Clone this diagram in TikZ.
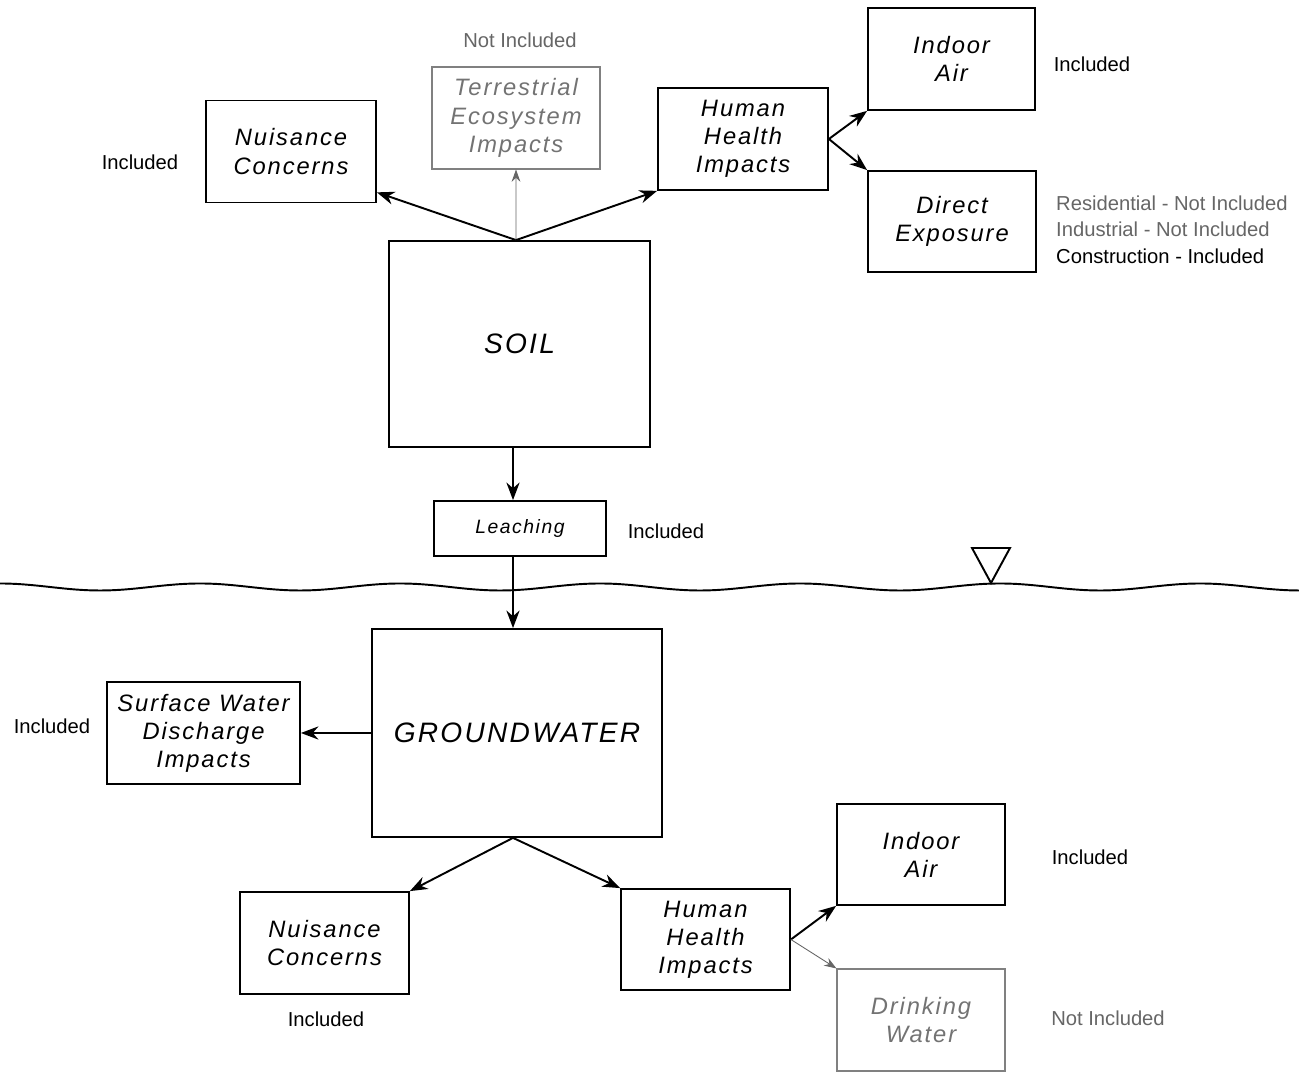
\documentclass[tikz,border=0pt]{standalone}
\usepackage{fontspec}
\setmainfont{Liberation Sans}
\newfontfamily\boxfont[LetterSpace=8]{Liberation Sans}
\usepackage{tikz}
\usetikzlibrary{
  arrows.meta,
  positioning,
  calc
}

\begin{document}
\begin{tikzpicture}[
    box/.style={
        draw,
        rectangle,
        line width=1pt,
        align=center,
        font=\boxfont\itshape\fontsize{13.5}{16}\selectfont,
        minimum width=3.4cm,
        minimum height=2.04cm,
        inner sep=2pt
    },
    faint/.style={draw=black!50, text=black!55, line width=0.6pt},
    medium/.style={box, minimum width=5.5cm, minimum height=4.14cm,
        font=\boxfont\itshape\fontsize{16}{19}\selectfont},
    note/.style={font=\fontsize{11.5}{15}\selectfont},
    arrow/.style={-{Stealth[length=10pt,width=7.5pt]}, line width=1.1pt},
    faintarrow/.style={-{Stealth[length=7pt,width=5pt]}, line width=0.5pt, draw=black!60}
]

\useasboundingbox (0,0) rectangle (25.98,21.46);

% ----------------------------------------------------------
% NODES
% ----------------------------------------------------------

\node[medium, minimum width=5.22cm, minimum height=4.12cm] (soil) at (10.39,14.58) {SOIL};

\node[box] (nuisTop) at (5.82,18.43) {Nuisance\\Concerns};
\node[box, faint, minimum width=3.36cm] (terr) at (10.32,19.10) {Terrestrial\\Ecosystem\\Impacts};
\node[box] (healthTop) at (14.86,18.68) {Human\\Health\\Impacts};
\node[box, minimum width=3.34cm] (indoorTop) at (19.03,20.28) {Indoor\\Air};
\node[box, minimum width=3.36cm, minimum height=2.02cm] (direct) at (19.04,17.03) {Direct\\Exposure};

\node[box, minimum width=3.44cm, minimum height=1.1cm,
      font=\boxfont\itshape\fontsize{11}{13}\selectfont] (leach) at (10.40,10.89) {Leaching};

\node[medium, minimum width=5.8cm, minimum height=4.16cm] (gw) at (10.34,6.80) {GROUNDWATER};

\node[box, minimum width=3.86cm] (surf) at (4.07,6.80) {Surface Water\\Discharge\\Impacts};
\node[box, minimum width=3.38cm] (nuisBot) at (6.49,2.60) {Nuisance\\Concerns};
\node[box, minimum width=3.38cm, minimum height=2.02cm] (healthBot) at (14.11,2.67) {Human\\Health\\Impacts};
\node[box, minimum width=3.36cm, minimum height=2.02cm] (indoorBot) at (18.42,4.37) {Indoor\\Air};
\node[box, faint, minimum width=3.36cm] (drink) at (18.42,1.06) {Drinking\\Water};

% ----------------------------------------------------------
% WATER TABLE
% ----------------------------------------------------------

\draw[line width=1.1pt] plot[domain=0:25.98, samples=260]
    (\x, {9.72 + 0.07*cos(90*(\x-4))});
\draw[line width=1.1pt] (19.44,10.50) -- (20.20,10.50) -- (19.82,9.80) -- cycle;

% ----------------------------------------------------------
% ARROWS
% ----------------------------------------------------------

\draw[arrow] ([xshift=-0.07cm]soil.north) -- ([yshift=0.22cm]nuisTop.south east);
\draw[faintarrow] ([xshift=-0.07cm]soil.north) -- (terr.south);
\draw[arrow] ([xshift=-0.07cm]soil.north) -- (healthTop.south west);

\draw[arrow] (healthTop.east) -- (indoorTop.south west);
\draw[arrow] (healthTop.east) -- (direct.north west);

\draw[arrow] ([xshift=-0.13cm]soil.south) -- ([xshift=-0.14cm]leach.north);
\draw[arrow] ([xshift=-0.14cm]leach.south) -- ([xshift=-0.08cm]gw.north);

\draw[arrow] (gw.west) -- (surf.east);
\draw[arrow] ([xshift=-0.08cm]gw.south) -- (nuisBot.north east);
\draw[arrow] ([xshift=-0.08cm]gw.south) -- (healthBot.north west);

\draw[arrow] (healthBot.east) -- (indoorBot.south west);
\draw[faintarrow] (healthBot.east) -- (drink.north west);

% ----------------------------------------------------------
% ANNOTATIONS
% ----------------------------------------------------------

\node[note] (lblNuisTop) at (2.80,18.22) {Included};
\node[note, text=black!60] (lblTerr) at (10.40,20.66) {Not Included};
\node[note] (lblIndoorTop) at (21.84,20.18) {Included};
\node[note, anchor=west, align=left] (lblDirect) at (21.00,16.87)
    {\textcolor{black!60}{Residential - Not Included}\\
     \textcolor{black!60}{Industrial - Not Included}\\
     Construction - Included};
\node[note] (lblLeach) at (13.32,10.84) {Included};
\node[note] (lblSurf) at (1.04,6.94) {Included};
\node[note] (lblIndoorBot) at (21.80,4.32) {Included};
\node[note] (lblNuisBot) at (6.52,1.08) {Included};
\node[note, text=black!60] (lblDrink) at (22.16,1.10) {Not Included};

\end{tikzpicture}
\end{document}
